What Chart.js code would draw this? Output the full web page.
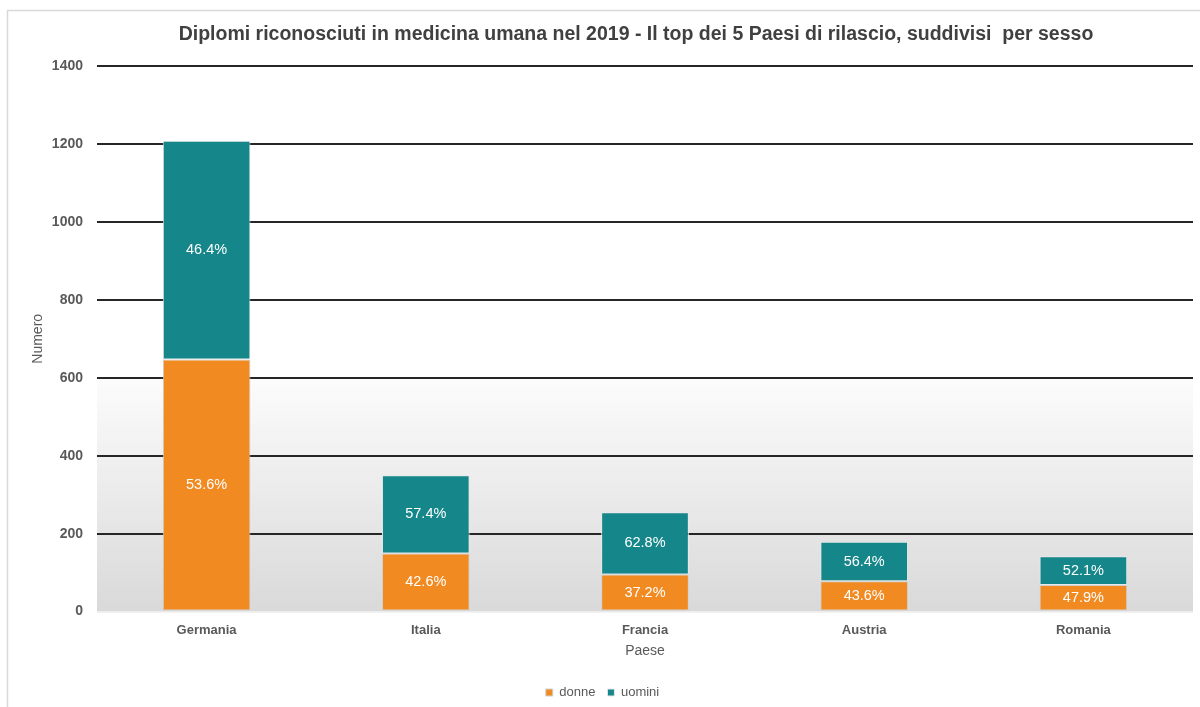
<!DOCTYPE html>
<html>
<head>
<meta charset="utf-8">
<script src="https://cdn.jsdelivr.net/npm/chart.js@4/dist/chart.umd.min.js"></script>
<style>
html,body{margin:0;padding:0;background:#fff;}
#wrap{width:1200px;height:707px;position:relative;}
canvas{display:block;}
</style>
</head>
<body>
<div id="wrap"><canvas id="c" width="1200" height="707"></canvas></div>
<script>
const chartTitle = 'Diplomi riconosciuti in medicina umana nel 2019 - Il top dei 5 Paesi di rilascio, suddivisi  per sesso';
const categories = ['Germania', 'Italia', 'Francia', 'Austria', 'Romania'];
const donne = [647, 149, 95, 78, 68];
const uomini = [561, 201, 160, 101, 74];
const donneLabels = ['53.6%', '42.6%', '37.2%', '43.6%', '47.9%'];
const uominiLabels = ['46.4%', '57.4%', '62.8%', '56.4%', '52.1%'];
const yTitle = 'Numero';
const xTitle = 'Paese';

const FONT = "'Liberation Sans', Arial, sans-serif";
const GRAY = '#595959';

const framePlugin = {
  id: 'frame',
  beforeDraw(chart) {
    const ctx = chart.ctx;
    const a = chart.chartArea;
    const y = chart.scales.y;
    ctx.save();
    ctx.fillStyle = '#ffffff';
    ctx.fillRect(0, 0, chart.width, chart.height);
    // outer border
    ctx.strokeStyle = '#d9d9d9';
    ctx.lineWidth = 1.5;
    ctx.beginPath();
    ctx.moveTo(7.5, 720);
    ctx.lineTo(7.5, 10.5);
    ctx.lineTo(1210, 10.5);
    ctx.stroke();
    // plot gradient
    const gTop = y.getPixelForValue(600);
    const grad = ctx.createLinearGradient(0, gTop, 0, a.bottom);
    grad.addColorStop(0, '#fcfcfc');
    grad.addColorStop(1, '#d9d9d9');
    ctx.fillStyle = grad;
    ctx.fillRect(a.left, gTop, a.right - a.left, a.bottom - gTop);
    ctx.fillStyle = '#f2f2f2';
    ctx.fillRect(a.left, a.bottom, a.right - a.left, 1.5);
    // title
    ctx.fillStyle = '#404040';
    ctx.font = "bold 19.5px " + FONT;
    ctx.textAlign = 'center';
    ctx.textBaseline = 'middle';
    ctx.fillText(chartTitle, 636, 35);
    ctx.restore();
  }
};

const labelPlugin = {
  id: 'segLabels',
  afterDatasetsDraw(chart) {
    const ctx = chart.ctx;
    ctx.save();
    ctx.fillStyle = '#ffffff';
    ctx.font = "14.5px " + FONT;
    ctx.textAlign = 'center';
    ctx.textBaseline = 'middle';
    chart.data.datasets.forEach((ds, di) => {
      const meta = chart.getDatasetMeta(di);
      meta.data.forEach((bar, i) => {
        const top = Math.min(bar.y, bar.base);
        const bot = Math.max(bar.y, bar.base);
        ctx.fillText(ds.pctLabels[i], bar.x, (top + bot) / 2);
      });
    });
    ctx.restore();
  }
};

new Chart(document.getElementById('c'), {
  type: 'bar',
  data: {
    labels: categories,
    datasets: [
      { label: 'donne', data: donne, pctLabels: donneLabels, backgroundColor: '#F28A22', borderColor: '#d0d0d0', borderWidth: 1, borderSkipped: false },
      { label: 'uomini', data: uomini, pctLabels: uominiLabels, backgroundColor: '#15868A', borderColor: '#e8e8e8', borderWidth: 1, borderSkipped: false }
    ]
  },
  options: {
    responsive: false,
    animation: false,
    devicePixelRatio: 1,
    layout: { padding: { top: 66, left: 12, right: 7, bottom: -2 } },
    datasets: { bar: { categoryPercentage: 1, barPercentage: 0.4 } },
    plugins: {
      title: { display: false },
      tooltip: { enabled: false },
      legend: {
        position: 'bottom',
        labels: {
          boxWidth: 7, boxHeight: 7, padding: 12,
          color: GRAY,
          font: { family: FONT, size: 13 }
        }
      }
    },
    scales: {
      x: {
        stacked: true,
        grid: { display: false, drawTicks: false },
        border: { display: false },
        ticks: { color: GRAY, padding: 11, font: { family: FONT, size: 13, weight: 'bold' } },
        title: { display: true, text: xTitle, color: GRAY, padding: { top: -6, bottom: 14 }, font: { family: FONT, size: 14 } }
      },
      y: {
        stacked: true,
        min: 0, max: 1400,
        afterFit(axis) { axis.width = 85; },
        grid: {
          drawTicks: false,
          lineWidth: 2,
          color: (c) => c.tick && c.tick.value === 0 ? 'rgba(0,0,0,0)' : '#262626'
        },
        border: { display: false },
        ticks: { stepSize: 200, color: GRAY, padding: 14, font: { family: FONT, size: 14, weight: 'bold' }, callback: (v) => String(v) },
        title: { display: true, text: yTitle, color: GRAY, padding: { top: 18, bottom: 0 }, font: { family: FONT, size: 14 } }
      }
    }
  },
  plugins: [framePlugin, labelPlugin]
});
</script>
</body>
</html>
